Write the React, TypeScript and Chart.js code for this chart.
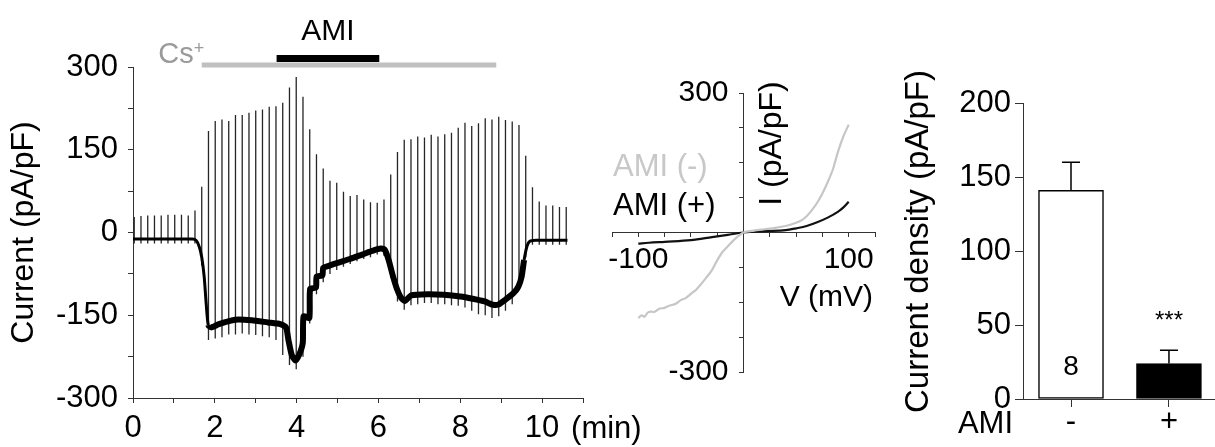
import React, { useEffect, useRef } from 'react';
import { Chart, registerables } from 'chart.js';

Chart.register(...registerables);

const FONT_FAMILY = "'Liberation Sans', Arial, Helvetica, sans-serif";
const AXIS_COLOR = '#333';

// ---- Time course: whole-cell current density (pA/pF) vs time (min) ----
const TRACE_TIME = [
  0, 1.45, 1.55, 1.62, 1.68, 1.74, 1.79, 1.84, 1.92, 2.1,
  2.5, 2.9, 3.3, 3.6, 3.74, 3.8, 3.88, 3.97, 4.06, 4.15,
  4.17, 4.31, 4.33, 4.47, 4.49, 4.63, 4.65, 4.8, 5.0, 5.3,
  5.6, 5.9, 6.05, 6.15, 6.25, 6.35, 6.45, 6.55, 6.65, 6.8,
  7.2, 7.6, 8.0, 8.3, 8.6, 8.8, 8.95, 9.1, 9.3, 9.42,
  9.5, 9.56, 9.63, 9.7, 9.85, 10.62,
];
const TRACE_CURRENT = [
  -12, -12, -15, -26, -45, -80, -130, -168, -172, -166,
  -158, -159, -163, -166, -172, -195, -222, -232, -222, -200,
  -152, -155, -102, -100, -80, -78, -64, -60, -55, -48,
  -40, -32, -29, -31, -50, -78, -102, -118, -124, -114,
  -112, -113, -116, -120, -125, -131, -130, -122, -110, -98,
  -80, -50, -25, -16, -14, -14,
];

// Voltage-ramp sweeps: one every ~10 s, drawn as vertical excursions
const SWEEP_START = 0.03;
const SWEEP_INTERVAL = 0.165;
const SWEEP_PEAK = [
  28, 30, 31, 31, 31, 32, 32, 32, 31, 40,
  83, 184, 202, 205, 202, 213, 213, 217, 221, 223,
  228, 229, 235, 263, 282, 246, 187, 142, 116, 94,
  90, 74, 66, 68, 60, 55, 54, 60, 105, 146,
  168, 169, 174, 172, 177, 174, 178, 181, 190, 199,
  193, 198, 207, 205, 210, 204, 201, 195, 139, 82,
  56, 49, 49, 46, 46,
];
const SWEEP_TROUGH = [
  -20, -20, -20, -20, -20, -20, -20, -20, -20, -20,
  -60, -195, -192, -190, -185, -185, -183, -185, -186, -188,
  -190, -195, -222, -240, -248, -225, -165, -112, -90, -75,
  -68, -62, -57, -52, -48, -45, -40, -42, -82, -125,
  -140, -132, -130, -128, -128, -130, -130, -132, -133, -136,
  -142, -148, -150, -155, -152, -142, -130, -105, -45, -22,
  -22, -22, -22, -22, -22,
];

const CS_PERIOD = [1.68, 8.88];
const AMI_PERIOD = [3.51, 6.02];

// ---- I-V relationship (ramp), AMI absent / present ----
const IV_VOLTAGE_MINUS = [
  -100, -97, -94, -91, -88, -85, -80, -75, -70, -65, -60, -55, -50, -45, -40,
  -35, -30, -25, -20, -15, -10, -5, 0, 10, 20, 30, 40, 50, 55, 60, 65, 70, 75,
  80, 85, 90, 95, 100,
];
const IV_CURRENT_MINUS = [
  -184, -178, -181, -172, -170, -171, -164, -162, -157, -154, -146, -141, -132, -123, -110,
  -96, -81, -60, -42, -30, -18, -8, 0, 4, 7, 10, 14, 21, 26, 35, 48, 64, 84,
  108, 136, 175, 207, 232,
];
const IV_VOLTAGE_PLUS = [-100, -90, -75, -50, -30, -15, 0, 20, 40, 50, 60, 70, 80, 90, 95, 100];
const IV_CURRENT_PLUS = [-24, -22, -20, -16.5, -10, -5, 0, 3, 5, 9, 14, 22, 32, 45, 54, 66];

// ---- Summary: current density, mean ± SEM ----
const BAR_GROUPS = ['-', '+'];
const BAR_MEAN = [141, 24];
const BAR_SEM = [19, 9];
const BAR_N = '8';
const BAR_SIGNIFICANCE = '***';

const font = (size: number) => `${size}px ${FONT_FAMILY}`;

function timeCourseConfig(): any {
  const sweepPoints: any[] = [];
  SWEEP_PEAK.forEach((peak, i) => {
    const t = SWEEP_START + i * SWEEP_INTERVAL;
    sweepPoints.push({ x: t, y: SWEEP_TROUGH[i] }, { x: t, y: peak }, { x: t, y: null });
  });
  const tracePoints = TRACE_TIME.map((t, i) => ({ x: t, y: TRACE_CURRENT[i] }));

  const decor = {
    id: 'timeDecor',
    afterDraw(chart: any) {
      const { ctx } = chart;
      const x = chart.scales.x;
      ctx.save();
      // Cs+ perfusion bar
      ctx.strokeStyle = '#c0c0c0';
      ctx.lineWidth = 5;
      ctx.beginPath();
      ctx.moveTo(x.getPixelForValue(CS_PERIOD[0]), 65);
      ctx.lineTo(x.getPixelForValue(CS_PERIOD[1]), 65);
      ctx.stroke();
      // AMI application bar
      ctx.strokeStyle = '#000';
      ctx.lineWidth = 7;
      ctx.beginPath();
      ctx.moveTo(x.getPixelForValue(AMI_PERIOD[0]), 58.5);
      ctx.lineTo(x.getPixelForValue(AMI_PERIOD[1]), 58.5);
      ctx.stroke();

      ctx.fillStyle = '#000';
      ctx.font = font(30);
      ctx.textAlign = 'center';
      ctx.textBaseline = 'alphabetic';
      ctx.fillText('AMI', (x.getPixelForValue(AMI_PERIOD[0]) + x.getPixelForValue(AMI_PERIOD[1])) / 2, 40);

      ctx.fillStyle = '#9a9a9a';
      ctx.textAlign = 'right';
      ctx.font = font(29);
      const csRight = x.getPixelForValue(CS_PERIOD[0]) - 8;
      ctx.fillText('Cs', csRight, 63);
      ctx.textAlign = 'left';
      ctx.font = font(18);
      ctx.fillText('+', csRight, 54);

      // unit label after the last time tick
      ctx.fillStyle = '#000';
      ctx.font = font(31);
      ctx.textAlign = 'left';
      ctx.textBaseline = 'middle';
      ctx.fillText('(min)', x.getPixelForValue(10) + 29, 429);
      ctx.restore();
    },
  };

  return {
    type: 'line',
    data: {
      datasets: [
        {
          data: sweepPoints,
          borderColor: '#262626',
          borderWidth: 1.3,
          pointRadius: 0,
          spanGaps: false,
          order: 2,
        },
        {
          data: tracePoints,
          borderColor: '#000',
          borderWidth: 3,
          pointRadius: 0,
          tension: 0.2,
          order: 1,
          segment: {
            borderWidth: (c: any) => (c.p0.parsed.x >= 1.84 && c.p1.parsed.x <= 9.56 ? 6 : 3),
          },
        },
      ],
    },
    options: {
      responsive: false,
      animation: false,
      layout: { padding: { top: 67, right: 77, left: 0, bottom: 0 } },
      plugins: { legend: { display: false }, tooltip: { enabled: false } },
      scales: {
        x: {
          type: 'linear',
          min: 0,
          max: 11,
          afterFit(s: any) { s.height = 49; },
          ticks: {
            stepSize: 1,
            autoSkip: false,
            maxRotation: 0,
            padding: 7,
            font: { size: 31 },
            callback: (v: any) => (v % 2 === 0 && v <= 10 ? String(v) : ''),
          },
          grid: { drawOnChartArea: false, tickLength: 5, color: AXIS_COLOR },
          border: { color: AXIS_COLOR, width: 1 },
        },
        y: {
          type: 'linear',
          min: -300,
          max: 300,
          afterFit(s: any) { s.width = 133; },
          ticks: {
            stepSize: 75,
            autoSkip: false,
            padding: 10,
            font: { size: 31 },
            callback: (v: any) => (v % 150 === 0 ? String(v) : ''),
          },
          title: {
            display: true,
            text: 'Current (pA/pF)',
            font: { size: 32 },
            padding: { top: 5, bottom: 0 },
            color: '#000',
          },
          grid: { drawOnChartArea: false, tickLength: 5, color: AXIS_COLOR },
          border: { color: AXIS_COLOR, width: 1 },
        },
      },
    },
    plugins: [decor],
  };
}

function ivConfig(): any {
  const labels = {
    id: 'ivText',
    afterDraw(chart: any) {
      const { ctx } = chart;
      const x = chart.scales.x;
      const y = chart.scales.y;
      const axisX = x.getPixelForValue(0);
      ctx.save();
      ctx.fillStyle = '#000';
      ctx.font = font(30);
      ctx.textAlign = 'right';
      ctx.textBaseline = 'middle';
      y.ticks.forEach((t: any) => {
        if (Math.abs(t.value) === 300) ctx.fillText(String(t.value), axisX - 15, y.getPixelForValue(t.value));
      });

      ctx.fillText('V (mV)', chart.chartArea.right - 2, 298);

      ctx.save();
      ctx.translate(axisX + 28.5, 143.5);
      ctx.rotate(-Math.PI / 2);
      ctx.textAlign = 'center';
      ctx.font = font(32);
      ctx.fillText('I (pA/pF)', 0, 0);
      ctx.restore();

      ctx.textAlign = 'left';
      ctx.font = font(31);
      ctx.fillStyle = '#c8c8c8';
      ctx.fillText('AMI (-)', 23, 167);
      ctx.fillStyle = '#000';
      ctx.fillText('AMI (+)', 23, 206);
      ctx.restore();
    },
  };

  return {
    type: 'line',
    data: {
      datasets: [
        {
          data: IV_VOLTAGE_MINUS.map((v, i) => ({ x: v, y: IV_CURRENT_MINUS[i] })),
          borderColor: '#c6c6c6',
          borderWidth: 2.2,
          pointRadius: 0,
          tension: 0.25,
        },
        {
          data: IV_VOLTAGE_PLUS.map((v, i) => ({ x: v, y: IV_CURRENT_PLUS[i] })),
          borderColor: '#111',
          borderWidth: 2.2,
          pointRadius: 0,
          cubicInterpolationMode: 'monotone',
        },
      ],
    },
    options: {
      responsive: false,
      animation: false,
      layout: { padding: { left: 22, right: 25, top: 93, bottom: 75 } },
      plugins: { legend: { display: false }, tooltip: { enabled: false } },
      scales: {
        x: {
          type: 'linear',
          position: { y: 0 },
          min: -125,
          max: 125,
          afterFit(s: any) { s.height = 0; },
          ticks: {
            stepSize: 25,
            autoSkip: false,
            maxRotation: 0,
            padding: 5,
            font: { size: 30 },
            callback: (v: any) => (Math.abs(v) === 100 ? String(v) : ''),
          },
          grid: { drawOnChartArea: false, tickLength: 4, color: AXIS_COLOR },
          border: { color: AXIS_COLOR, width: 1 },
        },
        y: {
          type: 'linear',
          position: { x: 0 },
          min: -300,
          max: 300,
          afterFit(s: any) { s.width = 0; },
          ticks: { stepSize: 75, display: false },
          grid: { drawOnChartArea: false, tickLength: 4, color: AXIS_COLOR },
          border: { color: AXIS_COLOR, width: 1 },
        },
      },
    },
    plugins: [labels],
  };
}

function barConfig(): any {
  const decor = {
    id: 'barDecor',
    afterDatasetsDraw(chart: any) {
      const { ctx } = chart;
      const y = chart.scales.y;
      const bars = chart.getDatasetMeta(0).data;
      ctx.save();
      ctx.strokeStyle = '#000';
      ctx.lineWidth = 1.5;
      bars.forEach((bar: any, i: number) => {
        const top = y.getPixelForValue(BAR_MEAN[i]);
        const err = y.getPixelForValue(BAR_MEAN[i] + BAR_SEM[i]);
        ctx.beginPath();
        ctx.moveTo(bar.x, top);
        ctx.lineTo(bar.x, err);
        ctx.moveTo(bar.x - 9, err);
        ctx.lineTo(bar.x + 9, err);
        ctx.stroke();
      });

      ctx.fillStyle = '#000';
      ctx.textAlign = 'center';
      ctx.textBaseline = 'middle';
      ctx.font = font(28);
      ctx.fillText(BAR_N, bars[0].x, y.getPixelForValue(0) - 32);

      ctx.font = font(24);
      const starY = y.getPixelForValue(BAR_MEAN[1] + BAR_SEM[1]) - 29;
      ctx.fillText(BAR_SIGNIFICANCE, bars[1].x, starY);

      ctx.font = font(31);
      ctx.textAlign = 'right';
      ctx.fillText('AMI', 113, 424);

      ctx.save();
      ctx.translate(18.5, 241.5);
      ctx.rotate(-Math.PI / 2);
      ctx.textAlign = 'center';
      ctx.font = font(33);
      ctx.fillText('Current density (pA/pF)', 0, 0);
      ctx.restore();
      ctx.restore();
    },
  };

  return {
    type: 'bar',
    data: {
      datasets: [
        {
          data: BAR_MEAN.map((m, i) => ({ x: i + 1, y: m })),
          backgroundColor: ['#ffffff', '#000000'],
          borderColor: '#000',
          borderWidth: 1.5,
          borderSkipped: false,
          barThickness: 65,
        },
      ],
    },
    options: {
      responsive: false,
      animation: false,
      layout: { padding: { top: 103, right: 0, left: 0, bottom: 0 } },
      plugins: { legend: { display: false }, tooltip: { enabled: false } },
      scales: {
        x: {
          type: 'linear',
          min: 0.51,
          max: 2.47,
          offset: false,
          afterFit(s: any) { s.height = 48; },
          afterBuildTicks(s: any) { s.ticks = BAR_GROUPS.map((_, i) => ({ value: i + 1 })); },
          ticks: {
            autoSkip: false,
            maxRotation: 0,
            padding: 0,
            font: { size: 31, lineHeight: 1 },
            callback: (v: any) => BAR_GROUPS[Math.round(v) - 1] ?? '',
          },
          grid: { drawOnChartArea: false, offset: false, tickLength: 8, color: AXIS_COLOR },
          border: { color: AXIS_COLOR, width: 1 },
        },
        y: {
          type: 'linear',
          min: 0,
          max: 200,
          afterFit(s: any) { s.width = 123; },
          ticks: { stepSize: 50, padding: 4, font: { size: 31 } },
          grid: { drawOnChartArea: false, tickLength: 8, color: AXIS_COLOR },
          border: { color: AXIS_COLOR, width: 1 },
        },
      },
    },
    plugins: [decor],
  };
}

export default function App() {
  const timeRef = useRef<HTMLCanvasElement>(null);
  const ivRef = useRef<HTMLCanvasElement>(null);
  const barRef = useRef<HTMLCanvasElement>(null);

  useEffect(() => {
    Chart.defaults.font.family = FONT_FAMILY;
    Chart.defaults.color = '#000';
    const charts = [
      new Chart(timeRef.current as HTMLCanvasElement, timeCourseConfig()),
      new Chart(ivRef.current as HTMLCanvasElement, ivConfig()),
      new Chart(barRef.current as HTMLCanvasElement, barConfig()),
    ];
    return () => charts.forEach((c) => c.destroy());
  }, []);

  return (
    <div
      style={{
        position: 'absolute',
        left: 0,
        top: 0,
        width: 1215,
        height: 447,
        background: '#fff',
        overflow: 'hidden',
      }}
    >
      <canvas ref={timeRef} width={660} height={447} style={{ position: 'absolute', left: 0, top: 0 }} />
      <canvas ref={ivRef} width={310} height={447} style={{ position: 'absolute', left: 590, top: 0 }} />
      <canvas ref={barRef} width={315} height={447} style={{ position: 'absolute', left: 900, top: 0 }} />
    </div>
  );
}
